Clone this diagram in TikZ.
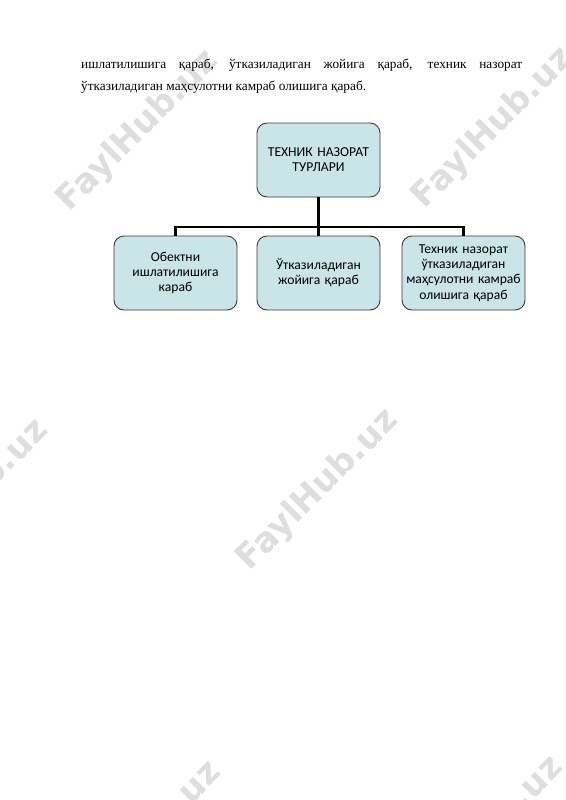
\documentclass[tikz,border=0pt]{standalone}
\usepackage{fontspec}
\setmainfont{Liberation Serif}
\newfontfamily\chartfont{Carlito}
\newfontfamily\markfont{DejaVu Sans}
\usepackage{tikz}
\usetikzlibrary{positioning}
\definecolor{boxfill}{HTML}{C9E5E8}
\definecolor{boxline}{HTML}{3A3A3A}
\definecolor{markgray}{HTML}{DEDEDE}
\tikzset{
  kind/.style={draw=boxline, line width=0.9pt, fill=boxfill, rounded corners=10pt,
    minimum width=123pt, minimum height=74pt, text width=119pt, align=center,
    inner sep=2pt, font=\chartfont\fontsize{13.6}{15.2}\selectfont},
  joint/.style={line width=2.2pt, black},
  wmark/.style={text=markgray, rotate=45, inner sep=0pt,
    font=\markfont\bfseries\fontsize{34}{34}\selectfont},
  bodyline/.style={anchor=base west, inner sep=0pt, font=\fontsize{13.3}{22}\selectfont}
}

\begin{document}
\begin{tikzpicture}[x=1pt, y=-1pt]
	% page
	\fill [white] (0, 0) rectangle (565, 800);
	\useasboundingbox (0, 0) rectangle (565, 800);
	% watermarks
	\node[wmark] (wm1) at (138, 131) {FaylHub.uz};
	\node[wmark] (wm2) at (493, 128) {FaylHub.uz};
	\node[wmark] (wm3) at (-32, 500) {FaylHub.uz};
	\node[wmark] (wm4) at (318, 490) {FaylHub.uz};
	\node[wmark] (wm5) at (141, 842) {FaylHub.uz};
	\node[wmark] (wm6) at (483, 837) {FaylHub.uz};
	% paragraph text
	\node[bodyline] (line1) at (81, 68) {\makebox[441pt][s]{ишлатилишига қараб, ўтказиладиган жойига қараб, техник назорат}};
	\node[bodyline] (line2) at (81, 90) {ўтказиладиган маҳсулотни камраб олишига қараб.};
	% chart boxes
	\node[kind] (kinds) at (318.5, 160) {ТЕХНИК НАЗОРАТ\\ТУРЛАРИ};
	\node[kind] (object) at (175.5, 273) {Обектни\\ишлатилишига\\караб};
	\node[kind] (place) at (318.5, 273) {Ўтказиладиган\\жойига қараб};
	\node[kind] (product) at (463.5, 273) {Техник назорат\\ўтказиладиган\\маҳсулотни камраб\\олишига қараб};
	% connectors
	\coordinate (bar) at (318.5, 227);
	\draw [joint] (kinds.south) -- (kinds.south |- bar);
	\draw [joint] (object.north) |- (product.north |- bar) -- (product.north);
	\draw [joint] (place.north) -- (place.north |- bar);
\end{tikzpicture}
\end{document}
